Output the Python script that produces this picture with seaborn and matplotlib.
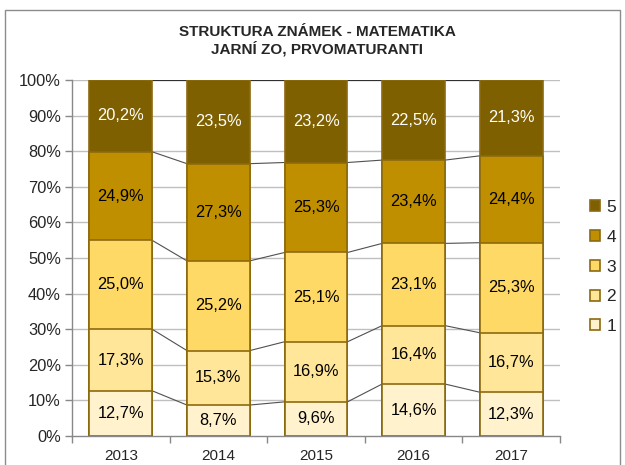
import numpy as np
import pandas as pd
import matplotlib
matplotlib.use("Agg")
import matplotlib.pyplot as plt
from matplotlib.patches import Patch, Rectangle
from matplotlib.ticker import FuncFormatter, FixedLocator
import seaborn as sns

# ── Data ──
YEARS = ["2013", "2014", "2015", "2016", "2017"]
GRADES = ["1", "2", "3", "4", "5"]
G1 = [12.7, 8.7, 9.6, 14.6, 12.3]
G2 = [17.3, 15.3, 16.9, 16.4, 16.7]
G3 = [25.0, 25.2, 25.1, 23.1, 25.3]
G4 = [24.9, 27.3, 25.3, 23.4, 24.4]
G5 = [20.2, 23.5, 23.2, 22.5, 21.3]

COLORS = ["#FFF2CC", "#FFE699", "#FFD966", "#BF8F00", "#7F6000"]
TEXT_COLORS = ["black", "black", "black", "black", "white"]
EDGE = "#8C6A10"

sns.set_style("white")
plt.rcParams["font.family"] = ["Liberation Sans", "DejaVu Sans"]

vals = np.array([G1, G2, G3, G4, G5])
shares = vals / vals.sum(axis=0) * 100          # Excel 100% stacked
cum = np.cumsum(shares, axis=0)
bottoms = cum - shares

df = pd.DataFrame({"year": YEARS})

fig = plt.figure(figsize=(6.25, 4.65), dpi=100)
ax = fig.add_axes([72 / 625, 1 - 436 / 465, (560 - 72) / 625, (436 - 80) / 465])

# gridlines
for y in range(10, 101, 10):
    ax.axhline(y, color="#BFBFBF", linewidth=1, zorder=0)

# stacked bars: draw cumulative totals from top down so each layer overlays
for i in reversed(range(len(GRADES))):
    df["h"] = cum[i]
    sns.barplot(data=df, x="year", y="h", color=COLORS[i], width=0.645,
                edgecolor=EDGE, linewidth=1.2, saturation=1, ax=ax, zorder=2)

# series lines between bars
half = 0.645 / 2
for i in range(len(GRADES) - 1):
    for j in range(len(YEARS) - 1):
        ax.plot([j + half, j + 1 - half], [cum[i][j], cum[i][j + 1]],
                color="#505050", linewidth=0.8, zorder=1)
for j in range(len(YEARS) - 1):
    ax.plot([j + half, j + 1 - half], [100, 100], color="#303030",
            linewidth=0.8, zorder=1)

# data labels
for i in range(len(GRADES)):
    for j in range(len(YEARS)):
        ax.text(j, bottoms[i][j] + shares[i][j] / 2,
                f"{vals[i][j]:.1f}%".replace(".", ","),
                ha="center", va="center", fontsize=11.8,
                color=TEXT_COLORS[i], zorder=3)

ax.set_ylim(0, 100)
ax.set_xlim(-0.5, len(YEARS) - 0.5)
ax.yaxis.set_major_locator(FixedLocator(range(0, 101, 10)))
ax.yaxis.set_major_formatter(FuncFormatter(lambda v, _: f"{v:.0f}%"))
ax.set_xlabel("")
ax.set_ylabel("")
ax.set_xticks(range(len(YEARS)))
ax.set_xticklabels(YEARS)
ax.tick_params(axis="x", length=0, pad=9, labelsize=11)
ax.tick_params(axis="y", left=True, length=5, width=1, color="#888888",
               pad=3, labelsize=11.8)
ax.set_xticks(np.arange(-0.5, len(YEARS), 1), minor=True)
ax.tick_params(axis="x", which="minor", bottom=True, length=5, width=1,
               color="#888888")
for s in ["top", "right"]:
    ax.spines[s].set_visible(False)
for s in ["left", "bottom"]:
    ax.spines[s].set_color("#888888")
    ax.spines[s].set_linewidth(1)

fig.text(317 / 625, 1 - 41 / 465, "STRUKTURA ZNÁMEK - MATEMATIKA\nJARNÍ ZO, PRVOMATURANTI",
         ha="center", va="center", fontsize=11, fontweight="bold",
         linespacing=1.2)

handles = [Patch(facecolor=COLORS[i], edgecolor=EDGE, linewidth=1.2, label=GRADES[i])
           for i in reversed(range(len(GRADES)))]
fig.legend(handles=handles, loc="center left", bbox_to_anchor=(583 / 625, 1 - 267 / 465),
           frameon=False, fontsize=12.5, handlelength=0.6, handleheight=0.6,
           handletextpad=0.35, labelspacing=0.85, borderaxespad=0)

fig.add_artist(Rectangle((5 / 625, -0.05), 615 / 625, 1.05 - 10 / 465,
                         transform=fig.transFigure, fill=False,
                         edgecolor="#8C8C8C", linewidth=1))

fig.savefig("out.png", dpi=100)
plt.close(fig)
